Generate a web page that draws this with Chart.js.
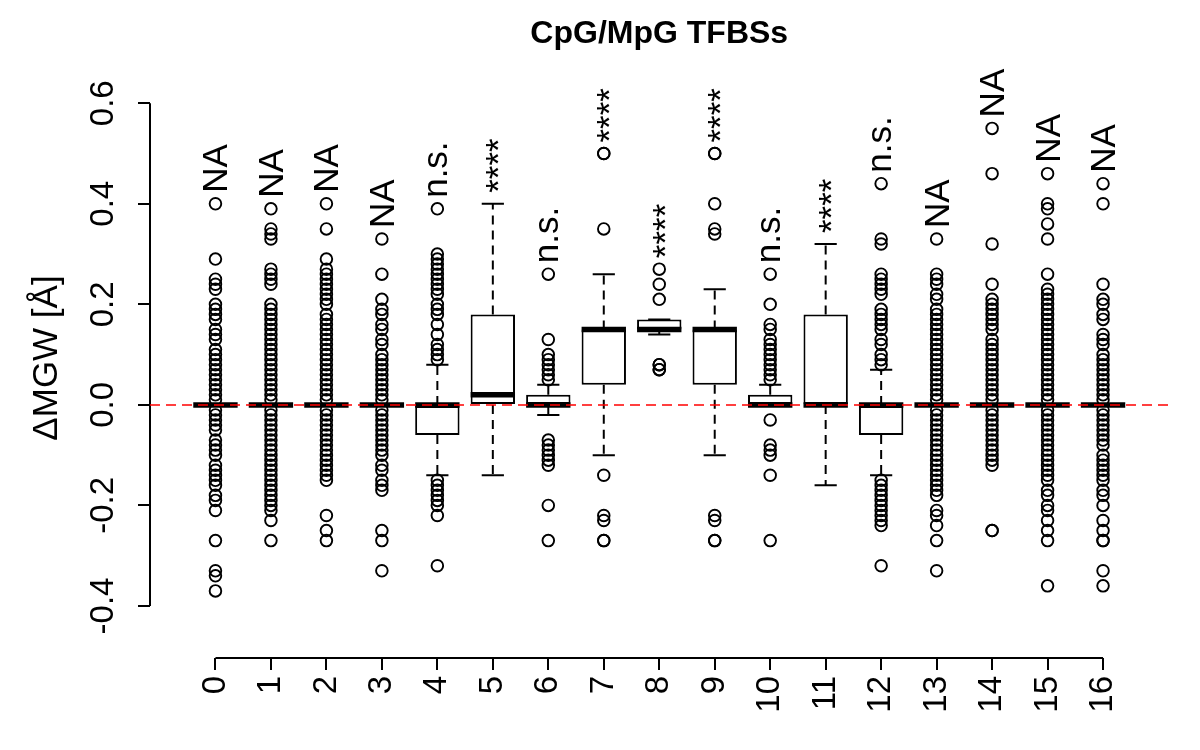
<!DOCTYPE html>
<html>
<head>
<meta charset="utf-8">
<script src="https://cdn.jsdelivr.net/npm/chart.js@4.4.1/dist/chart.umd.min.js"></script>
<style>
html,body{margin:0;padding:0;background:#ffffff;}
#box{position:relative;width:1200px;height:750px;}
</style>
</head>
<body>
<div id="box"><canvas id="chart"></canvas></div>
<script>
// ---------------- data ----------------
const chartTitle = 'CpG/MpG TFBSs';
const yAxisTitle = '\u0394MGW [\u00C5]';
const categories = ['0','1','2','3','4','5','6','7','8','9','10','11','12','13','14','15','16'];
const boxLow      = [0,0,0,0,-0.06,0,0,0.04,0.15,0.04,0,0,-0.06,0,0,0,0];
const boxMedian   = [0,0,0,0,0,0.02,0,0.15,0.15,0.15,0,0,0,0,0,0,0];
const boxHigh     = [0,0,0,0,0,0.18,0.02,0.15,0.17,0.15,0.02,0.18,0,0,0,0,0];
const whiskerLow  = [0,0,0,0,-0.14,-0.14,-0.02,-0.10,0.14,-0.10,0,-0.16,-0.14,0,0,0,0];
const whiskerHigh = [0,0,0,0,0.08,0.40,0.04,0.26,0.17,0.23,0.04,0.32,0.07,0,0,0,0];
const significance = ['NA','NA','NA','NA','n.s.','****','n.s.','****','****','****','n.s.','****','n.s.','NA','NA','NA','NA'];
const yTickValues = [-0.4,-0.2,0,0.2,0.4,0.6];
const yTickLabels = ['-0.4','-0.2','0.0','0.2','0.4','0.6'];
const referenceLine = 0;

const out0 = [0.40,0.29,0.25,0.24,0.23,0.20,0.19,0.18,0.17,0.15,0.14,0.13,0.11,0.10,0.09,0.08,0.07,0.06,0.05,0.04,0.03,0.02,0.01,-0.01,-0.02,-0.03,-0.04,-0.05,-0.07,-0.08,-0.09,-0.10,-0.12,-0.13,-0.14,-0.15,-0.16,-0.18,-0.19,-0.21,-0.27,-0.33,-0.34,-0.37];
const out1 = [0.39,0.35,0.34,0.33,0.27,0.26,0.25,0.24,0.20,0.19,0.18,0.17,0.16,0.15,0.14,0.13,0.12,0.11,0.10,0.09,0.08,0.07,0.06,0.05,0.04,0.03,0.02,0.01,-0.01,-0.02,-0.03,-0.04,-0.05,-0.06,-0.07,-0.08,-0.09,-0.10,-0.11,-0.12,-0.13,-0.14,-0.15,-0.16,-0.17,-0.18,-0.19,-0.20,-0.21,-0.23,-0.27];
const out2 = [0.40,0.35,0.29,0.27,0.26,0.25,0.24,0.23,0.22,0.21,0.20,0.18,0.17,0.16,0.15,0.14,0.13,0.12,0.11,0.10,0.09,0.08,0.07,0.06,0.05,0.04,0.03,0.02,0.01,-0.01,-0.02,-0.03,-0.04,-0.05,-0.06,-0.07,-0.08,-0.09,-0.10,-0.11,-0.12,-0.13,-0.14,-0.15,-0.22,-0.25,-0.27];
const out3 = [0.33,0.26,0.21,0.19,0.18,0.16,0.15,0.13,0.12,0.10,0.09,0.08,0.07,0.06,0.05,0.04,0.03,0.02,0.01,-0.01,-0.02,-0.03,-0.04,-0.05,-0.06,-0.07,-0.08,-0.09,-0.10,-0.12,-0.13,-0.15,-0.16,-0.17,-0.25,-0.27,-0.33];
const out4 = [0.39,0.30,0.29,0.28,0.27,0.26,0.25,0.24,0.23,0.22,0.20,0.19,0.18,0.16,0.14,0.12,0.11,0.10,0.09,-0.15,-0.16,-0.17,-0.18,-0.19,-0.20,-0.22,-0.32];
const out5 = [];
const out6 = [0.26,0.13,0.10,0.09,0.08,0.07,0.06,0.05,-0.07,-0.08,-0.09,-0.10,-0.11,-0.12,-0.20,-0.27];
const out7 = [0.50,0.50,0.35,-0.14,-0.22,-0.23,-0.27,-0.27];
const out8 = [0.27,0.24,0.21,0.08,0.08,0.07,0.07];
const out9 = [0.50,0.50,0.40,0.35,0.34,-0.22,-0.23,-0.27,-0.27];
const out10 = [0.26,0.20,0.16,0.15,0.13,0.12,0.11,0.10,0.09,0.08,0.07,0.06,0.05,-0.03,-0.08,-0.09,-0.10,-0.14,-0.27];
const out11 = [];
const out12 = [0.44,0.33,0.32,0.26,0.25,0.24,0.23,0.22,0.19,0.18,0.17,0.16,0.15,0.13,0.12,0.10,0.09,0.08,-0.15,-0.16,-0.17,-0.18,-0.19,-0.20,-0.21,-0.22,-0.23,-0.24,-0.32];
const out13 = [0.33,0.26,0.25,0.24,0.22,0.21,0.19,0.18,0.17,0.16,0.15,0.14,0.13,0.12,0.11,0.10,0.09,0.08,0.07,0.06,0.05,0.04,0.03,0.02,0.01,-0.01,-0.02,-0.03,-0.04,-0.05,-0.06,-0.07,-0.08,-0.09,-0.10,-0.11,-0.12,-0.13,-0.14,-0.15,-0.16,-0.17,-0.18,-0.21,-0.22,-0.24,-0.27,-0.33];
const out14 = [0.55,0.46,0.32,0.24,0.21,0.20,0.19,0.18,0.17,0.16,0.15,0.13,0.12,0.11,0.10,0.09,0.08,0.07,0.06,0.05,0.04,0.03,0.02,0.01,-0.01,-0.02,-0.03,-0.04,-0.05,-0.06,-0.07,-0.08,-0.09,-0.10,-0.11,-0.12,-0.25,-0.25];
const out15 = [0.46,0.40,0.39,0.36,0.33,0.26,0.23,0.22,0.21,0.20,0.19,0.18,0.17,0.16,0.15,0.14,0.13,0.12,0.11,0.10,0.09,0.08,0.07,0.06,0.05,0.04,0.03,0.02,0.01,-0.01,-0.02,-0.03,-0.04,-0.05,-0.06,-0.07,-0.08,-0.09,-0.10,-0.11,-0.12,-0.13,-0.14,-0.15,-0.17,-0.18,-0.20,-0.21,-0.23,-0.25,-0.27,-0.36];
const out16 = [0.44,0.40,0.24,0.21,0.20,0.18,0.17,0.14,0.13,0.12,0.10,0.09,0.08,0.07,0.06,0.05,0.04,0.03,0.02,0.01,-0.01,-0.02,-0.03,-0.04,-0.05,-0.06,-0.07,-0.08,-0.10,-0.11,-0.12,-0.13,-0.14,-0.15,-0.17,-0.18,-0.20,-0.23,-0.25,-0.27,-0.27,-0.33,-0.36];
const outliers = [out0,out1,out2,out3,out4,out5,out6,out7,out8,out9,out10,out11,out12,out13,out14,out15,out16];

// ---------------- chart ----------------
const FONT = '"Liberation Sans", Arial, Helvetica, sans-serif';
const xMin = -1.18, xMax = 17.18, yMin = -0.5035, yMax = 0.69;
const positions = categories.map((c, i) => i);

const boxData = positions.map(i => ({x: i, y: [boxLow[i], boxHigh[i]]}));
const medianData = positions.map(i => ({x: i, y: boxMedian[i]}));
const capData = [];
positions.forEach(i => { capData.push({x: i, y: whiskerHigh[i]}); capData.push({x: i, y: whiskerLow[i]}); });
const whiskerData = [];
positions.forEach(i => {
  if (whiskerHigh[i] > boxHigh[i]) whiskerData.push({x: i, y: boxHigh[i]}, {x: i, y: whiskerHigh[i]}, {x: i, y: null});
  if (whiskerLow[i] < boxLow[i]) whiskerData.push({x: i, y: boxLow[i]}, {x: i, y: whiskerLow[i]}, {x: i, y: null});
});
const outlierData = [];
outliers.forEach((arr, i) => arr.forEach(v => outlierData.push({x: i, y: v})));
const refLineData = [{x: xMin, y: referenceLine}, {x: xMax, y: referenceLine}];

function unitPx(chart) {
  const s = chart.scales.x;
  return s.getPixelForValue(1) - s.getPixelForValue(0);
}

const rDecor = {
  id: 'rDecor',
  beforeDatasetsDraw(chart) {
    const {ctx, scales: {x, y}, chartArea} = chart;
    ctx.save();
    ctx.strokeStyle = '#000';
    ctx.lineWidth = 2;
    ctx.beginPath();
    ctx.moveTo(chartArea.left, y.getPixelForValue(yTickValues[0]));
    ctx.lineTo(chartArea.left, y.getPixelForValue(yTickValues[yTickValues.length - 1]));
    ctx.moveTo(x.getPixelForValue(positions[0]), chartArea.bottom);
    ctx.lineTo(x.getPixelForValue(positions[positions.length - 1]), chartArea.bottom);
    ctx.stroke();
    ctx.restore();
  },
  afterDraw(chart) {
    const {ctx, scales: {x, y}, chartArea} = chart;
    ctx.save();
    ctx.fillStyle = '#000';
    // title
    ctx.font = 'bold 32px ' + FONT;
    ctx.textAlign = 'center';
    ctx.textBaseline = 'alphabetic';
    ctx.fillText(chartTitle, (chartArea.left + chartArea.right) / 2, 43);
    // y tick labels (parallel to axis)
    ctx.font = '33px ' + FONT;
    yTickValues.forEach((v, k) => {
      ctx.save();
      ctx.translate(113, y.getPixelForValue(v));
      ctx.rotate(-Math.PI / 2);
      ctx.textAlign = 'center';
      ctx.fillText(yTickLabels[k], 0, 0);
      ctx.restore();
    });
    // y axis title
    ctx.font = '35px ' + FONT;
    ctx.save();
    ctx.translate(57, (chartArea.top + chartArea.bottom) / 2);
    ctx.rotate(-Math.PI / 2);
    ctx.textAlign = 'center';
    ctx.fillText(yAxisTitle, 0, 0);
    ctx.restore();
    // significance labels
    ctx.font = '35px ' + FONT;
    positions.forEach(i => {
      const top = Math.max(whiskerHigh[i], boxHigh[i], ...outliers[i]);
      const px = x.getPixelForValue(i);
      const py = y.getPixelForValue(top) - 11;
      const m = ctx.measureText(significance[i]);
      ctx.save();
      ctx.translate(px, py);
      ctx.rotate(-Math.PI / 2);
      ctx.textAlign = 'left';
      ctx.fillText(significance[i], 0, (m.actualBoundingBoxAscent - m.actualBoundingBoxDescent) / 2);
      ctx.restore();
    });
    ctx.restore();
  }
};

new Chart(document.getElementById('chart'), {
  type: 'bar',
  data: {
    datasets: [
      {
        type: 'line', label: 'reference', data: refLineData, order: 0,
        borderColor: '#ff0000', borderWidth: 1.5, borderDash: [10, 6],
        pointRadius: 0, fill: false
      },
      {
        type: 'scatter', label: 'outliers', data: outlierData, order: 1,
        pointStyle: 'circle', pointRadius: 5.8, pointBorderWidth: 1.9,
        borderColor: '#000', backgroundColor: 'rgba(0,0,0,0)',
        pointBorderColor: '#000', pointBackgroundColor: 'rgba(0,0,0,0)'
      },
      {
        type: 'scatter', label: 'median', data: medianData, order: 2,
        pointStyle: 'line', pointBorderWidth: 5.5, borderColor: '#000', pointBorderColor: '#000',
        pointRadius: (c) => unitPx(c.chart) * 0.4
      },
      {
        type: 'scatter', label: 'caps', data: capData, order: 3,
        pointStyle: 'line', pointBorderWidth: 2, borderColor: '#000', pointBorderColor: '#000',
        pointRadius: (c) => unitPx(c.chart) * 0.2
      },
      {
        type: 'line', label: 'whiskers', data: whiskerData, order: 4,
        borderColor: '#000', borderWidth: 2, borderDash: [9, 6],
        pointRadius: 0, spanGaps: false, fill: false
      },
      {
        type: 'bar', label: 'boxes', data: boxData, order: 5,
        backgroundColor: '#ffffff', borderColor: '#000', borderWidth: 2,
        borderSkipped: false, barPercentage: 0.8, categoryPercentage: 1.0
      }
    ]
  },
  options: {
    responsive: true,
    maintainAspectRatio: false,
    animation: false,
    events: [],
    devicePixelRatio: 1,
    layout: { padding: { top: 58, right: 31.5, left: 0, bottom: 0 } },
    plugins: { legend: { display: false }, tooltip: { enabled: false }, title: { display: false } },
    scales: {
      x: {
        type: 'linear', min: xMin, max: xMax, position: 'bottom', offset: false,
        afterBuildTicks: (s) => { s.ticks = positions.map(v => ({value: v})); },
        afterFit: (s) => { s.height = 92; },
        ticks: {
          autoSkip: false, minRotation: 90, maxRotation: 90, padding: 6, color: '#000',
          font: { size: 33, family: FONT },
          callback: (v) => categories[v]
        },
        grid: { offset: false, drawOnChartArea: false, drawTicks: true, tickLength: 12, color: '#000', lineWidth: 2 },
        border: { display: false }
      },
      y: {
        type: 'linear', min: yMin, max: yMax, position: 'left',
        afterBuildTicks: (s) => { s.ticks = yTickValues.map(v => ({value: v})); },
        afterFit: (s) => { s.width = 150; },
        ticks: { display: false },
        grid: { drawOnChartArea: false, drawTicks: true, tickLength: 12, color: '#000', lineWidth: 2 },
        border: { display: false }
      }
    }
  },
  plugins: [rDecor]
});
</script>
</body>
</html>
